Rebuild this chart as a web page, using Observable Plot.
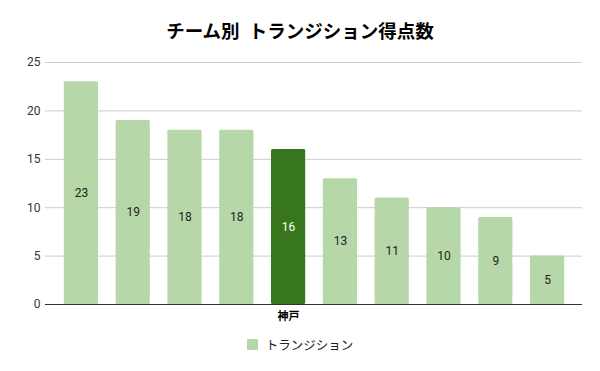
<!DOCTYPE html>
<html>
<head>
<meta charset="utf-8">
<script src="https://cdn.jsdelivr.net/npm/d3@7"></script>
<script src="https://cdn.jsdelivr.net/npm/@observablehq/plot@0.6"></script>
<style>
  html, body { margin: 0; padding: 0; background: #fff; }
  body { width: 600px; height: 371px; overflow: hidden; font-family: Roboto, "Noto Sans CJK JP", sans-serif; }
  #title { height: 50px; line-height: 64px; text-align: center; font-size: 18.5px; font-weight: bold; color: #000; }
  #legend { display: flex; justify-content: center; align-items: center; height: 18px; font-size: 12.5px; color: #222; margin-top: 0px; }
  #legend .sw { width: 11px; height: 11px; background: #b6d7a8; margin-right: 8px; border-radius: 1px; }
  svg { display: block; }
</style>
</head>
<body>
<div id="title">チーム別&nbsp; トランジション得点数</div>
<div id="chart"></div>
<div id="legend"><span class="sw"></span><span>トランジション</span></div>
<script>
const tickLabels = ["", "", "", "", "神戸", "", "", "", "", ""];
const values = [23, 19, 18, 18, 16, 13, 11, 10, 9, 5];
const highlight = "神戸";
const yTicks = [0, 5, 10, 15, 20, 25];

const data = values.map((v, i) => ({i, label: tickLabels[i], value: v, hi: tickLabels[i] === highlight}));

const chart = Plot.plot({
  width: 600,
  height: 285,
  marginTop: 12,
  marginBottom: 31,
  marginLeft: 45,
  marginRight: 18,
  style: {fontFamily: 'Roboto, "Noto Sans CJK JP", sans-serif', fontSize: "12px", color: "#222", background: "#fff"},
  x: {type: "band", domain: d3.range(values.length), round: false, paddingInner: 0.34, paddingOuter: 0.17, insetLeft: 10, insetRight: 9, label: null, tickSize: 0, tickPadding: 8, tickFormat: i => tickLabels[i]},
  y: {domain: [0, 25], ticks: yTicks, label: null, tickSize: 0, tickPadding: 5},
  marks: [
    Plot.ruleY(yTicks.filter(t => t > 0), {stroke: "#cccccc", strokeWidth: 1}),
    Plot.barY(data, {x: "i", y: "value", fill: d => d.hi ? "#38761d" : "#b6d7a8", rx: 1.5}),
    Plot.ruleY([0], {stroke: "#333", strokeWidth: 1}),
    Plot.text(data, {x: "i", y: d => d.value / 2, text: d => String(d.value), fill: d => d.hi ? "#fff" : "#222", fontSize: 12}),
    Plot.axisX({tickSize: 0, tickPadding: 8, tickFormat: i => tickLabels[i], fontSize: 11, fill: "#000", fontWeight: "bold"}),
    Plot.axisY({ticks: yTicks, tickSize: 0, tickPadding: 5, fill: "#333"})
  ]
});
document.getElementById("chart").appendChild(chart);
</script>
</body>
</html>
